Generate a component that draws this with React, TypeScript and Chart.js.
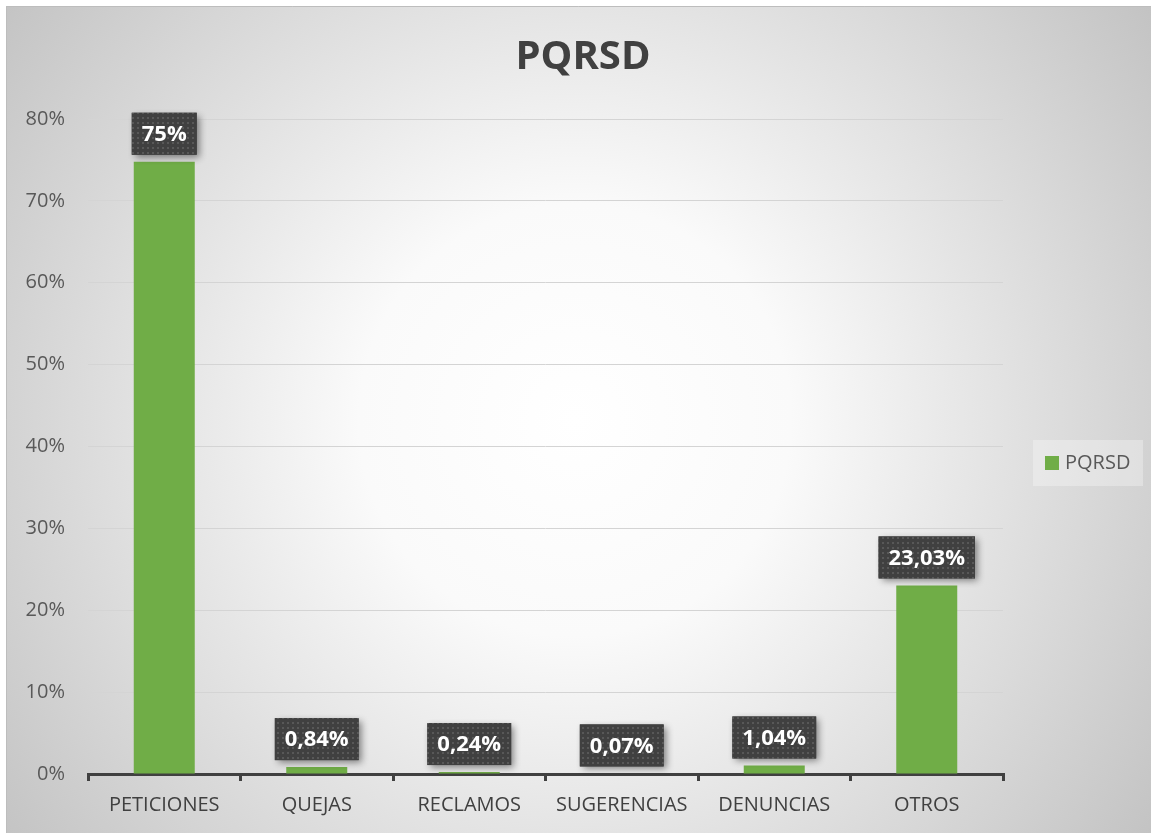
import React, { useEffect, useRef } from "react";
import { Chart, registerables } from "chart.js";

Chart.register(...registerables);

const categories = ["PETICIONES", "QUEJAS", "RECLAMOS", "SUGERENCIAS", "DENUNCIAS", "OTROS"];
const values = [74.78, 0.84, 0.24, 0.07, 1.04, 23.03];
const valueLabels = ["75%", "0,84%", "0,24%", "0,07%", "1,04%", "23,03%"];
const seriesName = "PQRSD";
const titleText = "PQRSD";
const yTicks = [0, 10, 20, 30, 40, 50, 60, 70, 80];

const W = 1151;
const H = 833;
const FONT = "'Open Sans', 'Liberation Sans', sans-serif";
const GREEN = "#70AD47";

function makePattern(ctx: CanvasRenderingContext2D) {
  const c = document.createElement("canvas");
  c.width = 5;
  c.height = 5;
  const p = c.getContext("2d")!;
  p.fillStyle = "#404040";
  p.fillRect(0, 0, 5, 5);
  p.fillStyle = "#585858";
  p.fillRect(2, 2, 2, 2);
  return ctx.createPattern(c, "repeat");
}

const bgPlugin = {
  id: "bgPlugin",
  beforeDraw(chart: any) {
    const ctx = chart.ctx as CanvasRenderingContext2D;
    ctx.save();
    ctx.fillStyle = "#ffffff";
    ctx.fillRect(0, 0, W, H);
    const g = ctx.createRadialGradient(575, 420, 0, 575, 420, 720);
    g.addColorStop(0, "#ffffff");
    g.addColorStop(0.3, "#fafafa");
    g.addColorStop(1, "#c2c2c2");
    ctx.fillStyle = g;
    ctx.fillRect(6, 6, W - 6, H - 6);
    ctx.strokeStyle = "#bdbdbd";
    ctx.lineWidth = 1;
    ctx.beginPath();
    ctx.moveTo(6.5, H);
    ctx.lineTo(6.5, 6.5);
    ctx.lineTo(W, 6.5);
    ctx.stroke();
    // title
    ctx.fillStyle = "#404040";
    ctx.font = `bold 40px ${FONT}`;
    ctx.textAlign = "center";
    ctx.textBaseline = "middle";
    ctx.fillText(titleText, 583, 58);
    // legend
    ctx.fillStyle = "rgba(255,255,255,0.3)";
    ctx.fillRect(1033, 440, 110, 46);
    ctx.fillStyle = GREEN;
    ctx.fillRect(1045, 456, 14, 14);
    ctx.fillStyle = "#595959";
    ctx.font = `20px ${FONT}`;
    ctx.textAlign = "left";
    ctx.fillText(seriesName, 1065, 463);
    ctx.restore();
  },
};

const labelPlugin = {
  id: "labelPlugin",
  afterDatasetsDraw(chart: any) {
    const ctx = chart.ctx as CanvasRenderingContext2D;
    const meta = chart.getDatasetMeta(0);
    const pattern = makePattern(ctx);
    ctx.save();
    ctx.font = `bold 22px ${FONT}`;
    meta.data.forEach((bar: any, i: number) => {
      const text = valueLabels[i];
      const tw = ctx.measureText(text).width;
      const bw = tw + 20;
      const bh = 42;
      const x = bar.x - bw / 2;
      const y = bar.y - 7 - bh;
      ctx.save();
      ctx.shadowColor = "rgba(0,0,0,0.45)";
      ctx.shadowBlur = 7;
      ctx.shadowOffsetX = 3;
      ctx.shadowOffsetY = 3;
      ctx.fillStyle = "#404040";
      ctx.fillRect(x, y, bw, bh);
      ctx.restore();
      if (pattern) {
        ctx.fillStyle = pattern;
        ctx.fillRect(x, y, bw, bh);
      }
      ctx.fillStyle = "#ffffff";
      ctx.textAlign = "center";
      ctx.textBaseline = "middle";
      ctx.fillText(text, bar.x, y + bh / 2 + 1);
    });
    ctx.restore();
  },
};

export default function App() {
  const ref = useRef<HTMLCanvasElement>(null);
  useEffect(() => {
    if (!ref.current) return;
    const chart = new Chart(ref.current, {
      type: "bar",
      data: {
        labels: categories,
        datasets: [
          {
            label: seriesName,
            data: values,
            backgroundColor: GREEN,
            barPercentage: 0.4,
            categoryPercentage: 1,
          },
        ],
      },
      plugins: [bgPlugin, labelPlugin],
      options: {
        animation: false,
        responsive: false,
        devicePixelRatio: 1,
        layout: { padding: { left: 0, top: 119, right: 148, bottom: 0 } },
        plugins: {
          legend: { display: false },
          title: { display: false },
          tooltip: { enabled: false },
        },
        scales: {
          x: {
            offset: true,
            grid: {
              offset: true,
              drawOnChartArea: false,
              drawTicks: true,
              tickLength: 7,
              color: "#404040",
              lineWidth: 3,
            },
            border: { display: true, color: "#404040", width: 3 },
            ticks: {
              color: "#404040",
              font: { family: FONT, size: 20 },
              padding: 12,
              maxRotation: 0,
              autoSkip: false,
            },
            afterFit(scale: any) {
              scale.height = H - 774;
            },
          },
          y: {
            min: 0,
            max: 80,
            afterBuildTicks(scale: any) {
              scale.ticks = yTicks.map((v) => ({ value: v }));
            },
            grid: {
              drawTicks: false,
              color: (c: any) => (c.tick && c.tick.value === 0 ? "rgba(0,0,0,0)" : "#d4d4d4"),
              lineWidth: 1,
            },
            border: { display: false },
            ticks: {
              color: "#595959",
              font: { family: FONT, size: 20 },
              padding: 23,
              callback: (v: any) => v + "%",
            },
            afterFit(scale: any) {
              scale.width = 88;
            },
          },
        },
      },
    });
    return () => chart.destroy();
  }, []);
  return (
    <canvas
      ref={ref}
      width={W}
      height={H}
      style={{ position: "fixed", left: 0, top: 0, width: W, height: H }}
    />
  );
}
